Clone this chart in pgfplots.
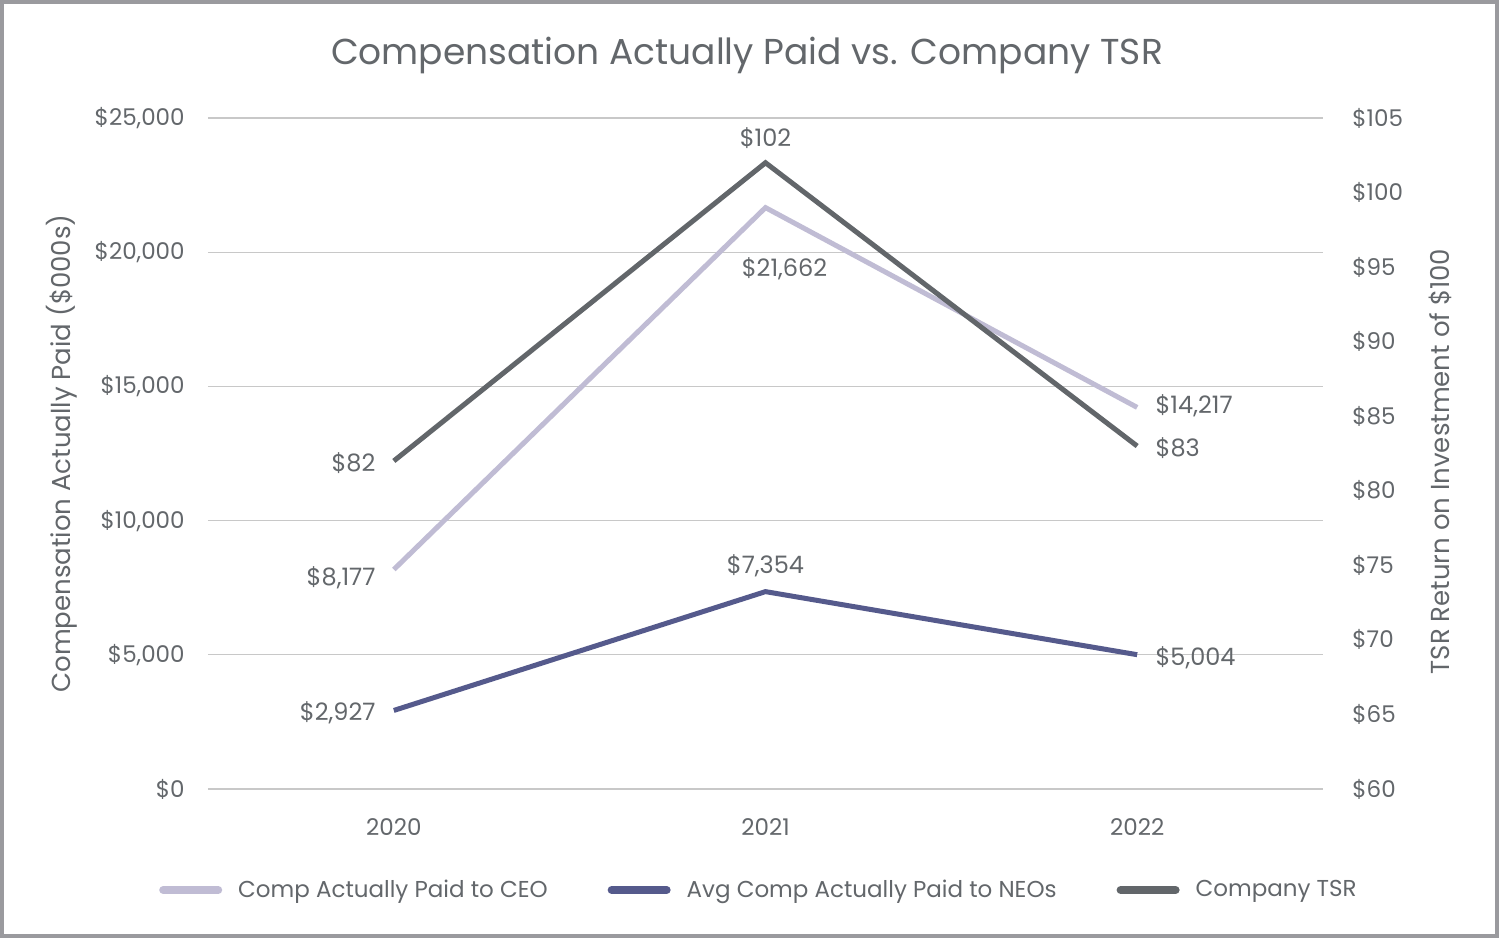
\documentclass[border=0pt]{standalone}
\usepackage{pgfplots}
\pgfplotsset{compat=1.18}
\usepackage{fontspec}
\setmainfont{Poppins}

\definecolor{txt}{HTML}{63676B}
\definecolor{ceo}{HTML}{C0BCD4}
\definecolor{neo}{HTML}{555A8C}
\definecolor{tsr}{HTML}{62666A}
\definecolor{gridc}{HTML}{C8C8C8}
\definecolor{framec}{HTML}{9A9A9E}

\pgfplotsset{
  common/.style={
    at={(0pt,0pt)}, anchor=south west,
    scale only axis, width=557.5pt, height=335.5pt,
    xmin=-0.5, xmax=2.5,
    axis line style={draw=none},
    major tick length=0pt,
    every tick label/.append style={font=\fontsize{11.5}{14}\selectfont, text=txt, inner sep=0pt},
    /pgf/number format/fixed,
    /pgf/number format/1000 sep={,},
    /pgf/number format/assume math mode=true,
  },
}

\begin{document}
\begin{tikzpicture}
  % page: 749.5pt x 469pt, axis box sits at (104pt, 74.5pt) from its lower left corner
  \useasboundingbox (-104pt,-74.5pt) rectangle (645.5pt,394.5pt);
  \fill[white] (-104pt,-74.5pt) rectangle (645.5pt,394.5pt);

  \begin{axis}[common,
      ymin=0, ymax=25000,
      xtick={0,1,2}, xticklabels={2020,2021,2022},
      ytick={0,5000,...,25000},
      scaled y ticks=false,
      yticklabel={\$\pgfmathprintnumber{\tick}},
      yticklabel style={anchor=east, xshift=-11.5pt},
      xticklabel style={anchor=north, yshift=-14.5pt},
      ymajorgrids, grid style={gridc, line width=0.6pt},
      ylabel={Compensation Actually Paid (\$000s)},
      every axis y label/.style={at={(axis description cs:0,0.5)}, xshift=-73pt,
        rotate=90, anchor=center, font=\fontsize{13}{15}\selectfont, text=txt},
    ]
    \addplot[ceo, line width=2.5pt] coordinates {(0,8177) (1,21662) (2,14217)};
    \addplot[neo, line width=2.5pt] coordinates {(0,2927) (1,7354) (2,5004)};

    \begin{scope}[every node/.style={inner sep=0pt, text=txt, font=\fontsize{12}{14}\selectfont}]
      \node[anchor=east, xshift=-9pt, yshift=-4pt] at (axis cs:0,8177) {\$8,177};
      \node[anchor=east, xshift=-9pt, yshift=-1pt] at (axis cs:0,2927) {\$2,927};
      \node[anchor=north, xshift=9.5pt, yshift=-25pt] at (axis cs:1,21662) {\$21,662};
      \node[anchor=south, yshift=7pt] at (axis cs:1,7354) {\$7,354};
      \node[anchor=west, xshift=9pt, yshift=1pt] at (axis cs:2,14217) {\$14,217};
      \node[anchor=west, xshift=9pt, yshift=-1.5pt] at (axis cs:2,5004) {\$5,004};
    \end{scope}
  \end{axis}

  \begin{axis}[common,
      ymin=60, ymax=105,
      hide x axis,
      ytick={60,65,...,105},
      yticklabel pos=right,
      yticklabel={\$\pgfmathprintnumber{\tick}},
      yticklabel style={anchor=west, xshift=14.5pt},
      ylabel={TSR Return on Investment of \$100},
      every axis y label/.style={at={(axis description cs:1,0.5)}, xshift=58.5pt, yshift=-4pt,
        rotate=90, anchor=center, font=\fontsize{13}{15}\selectfont, text=txt},
      legend columns=3,
      legend style={at={(axis description cs:0.495,-0.1505)}, anchor=center, draw=none, fill=none,
        font=\fontsize{11.5}{14}\selectfont, text=txt,
        /tikz/every odd column/.append style={column sep=6pt},
        /tikz/every even column/.append style={column sep=28pt}},
      legend image code/.code={\draw[#1, line width=4pt, line cap=round] (2pt,0pt) -- (29.5pt,0pt);},
    ]
    \addlegendimage{ceo}
    \addlegendentry{Comp Actually Paid to CEO}
    \addlegendimage{neo}
    \addlegendentry{Avg Comp Actually Paid to NEOs}
    \addplot[tsr, line width=2.5pt] coordinates {(0,82) (1,102) (2,83)};
    \addlegendentry{Company TSR}

    \begin{scope}[every node/.style={inner sep=0pt, text=txt, font=\fontsize{12}{14}\selectfont}]
      \node[anchor=east, xshift=-9pt, yshift=-1pt] at (axis cs:0,82) {\$82};
      \node[anchor=south, yshift=7pt] at (axis cs:1,102) {\$102};
      \node[anchor=west, xshift=9pt, yshift=-1pt] at (axis cs:2,83) {\$83};
    \end{scope}
  \end{axis}

  \node[text=txt, font=\fontsize{18}{22}\selectfont] at (269.5pt,367pt) {Compensation Actually Paid vs. Company TSR};
  \draw[framec, line width=2pt] (-103pt,-73.5pt) rectangle (644.5pt,393.5pt);
\end{tikzpicture}
\end{document}
